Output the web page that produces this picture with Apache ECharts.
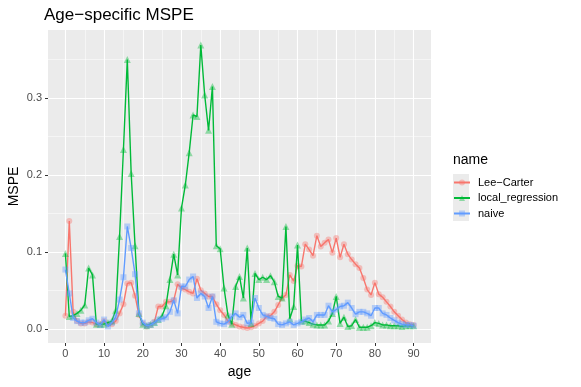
<!DOCTYPE html>
<html><head><meta charset="utf-8">
<script src="https://cdn.jsdelivr.net/npm/echarts@6/dist/echarts.min.js"></script>
<style>html,body{margin:0;padding:0;background:#fff}#c{width:581px;height:387px}</style>
</head><body><div id="c"></div>
<script>
const ages = [0,1,2,3,4,5,6,7,8,9,10,11,12,13,14,15,16,17,18,19,20,21,22,23,24,25,26,27,28,29,30,31,32,33,34,35,36,37,38,39,40,41,42,43,44,45,46,47,48,49,50,51,52,53,54,55,56,57,58,59,60,61,62,63,64,65,66,67,68,69,70,71,72,73,74,75,76,77,78,79,80,81,82,83,84,85,86,87,88,89,90];
const leeCarter = [0.017,0.140,0.022,0.010,0.007,0.007,0.009,0.008,0.006,0.006,0.010,0.006,0.006,0.010,0.020,0.032,0.059,0.060,0.043,0.018,0.007,0.003,0.005,0.009,0.029,0.029,0.035,0.035,0.037,0.058,0.053,0.051,0.048,0.046,0.065,0.050,0.046,0.042,0.042,0.032,0.024,0.018,0.010,0.007,0.005,0.003,0.002,0.001,0.002,0.004,0.007,0.010,0.016,0.017,0.022,0.031,0.040,0.044,0.070,0.062,0.082,0.081,0.110,0.103,0.095,0.121,0.107,0.112,0.116,0.099,0.118,0.093,0.110,0.097,0.090,0.084,0.079,0.066,0.051,0.044,0.060,0.045,0.041,0.035,0.029,0.022,0.017,0.012,0.008,0.006,0.005];
const localRegression = [0.098,0.016,0.017,0.020,0.024,0.031,0.079,0.070,0.006,0.006,0.006,0.008,0.010,0.024,0.120,0.233,0.350,0.202,0.108,0.020,0.006,0.004,0.006,0.008,0.012,0.017,0.030,0.064,0.097,0.070,0.157,0.187,0.229,0.278,0.276,0.369,0.304,0.258,0.315,0.108,0.104,0.053,0.018,0.006,0.055,0.068,0.040,0.105,0.007,0.072,0.064,0.067,0.064,0.069,0.061,0.042,0.040,0.133,0.013,0.029,0.109,0.010,0.010,0.008,0.006,0.005,0.005,0.005,0.010,0.020,0.042,0.007,0.015,0.003,0.004,0.012,0.002,0.002,0.002,0.004,0.008,0.007,0.005,0.005,0.004,0.004,0.004,0.003,0.004,0.004,0.004];
const naive = [0.077,0.046,0.014,0.010,0.008,0.008,0.011,0.013,0.008,0.005,0.012,0.003,0.008,0.015,0.038,0.067,0.133,0.105,0.071,0.020,0.008,0.004,0.005,0.008,0.012,0.013,0.015,0.022,0.037,0.020,0.055,0.055,0.064,0.068,0.040,0.046,0.042,0.027,0.042,0.009,0.007,0.006,0.009,0.016,0.020,0.015,0.018,0.007,0.008,0.040,0.027,0.018,0.016,0.014,0.013,0.006,0.005,0.007,0.009,0.005,0.007,0.009,0.012,0.014,0.009,0.018,0.018,0.018,0.030,0.022,0.025,0.029,0.030,0.034,0.027,0.019,0.022,0.022,0.020,0.017,0.027,0.027,0.020,0.018,0.014,0.011,0.008,0.006,0.005,0.005,0.004];
const seriesNames = ['Lee\u2212Carter','local_regression','naive'];
const xMajorTicks = [0,10,20,30,40,50,60,70,80,90];
const xMinorTicks = [5,15,25,35,45,55,65,75,85];
const yMajorTicks = [0,0.1,0.2,0.3];
const yMinorTicks = [0.05,0.15,0.25,0.35];

const colors = ['#F8766D','#00BA38','#619CFF'];
const symbols = ['circle','triangle','rect'];
const valuesList = [leeCarter, localRegression, naive];
const FONT = '"Liberation Sans", Arial, sans-serif';

const chart = echarts.init(document.getElementById('c'), null, {renderer:'canvas'});
const series = valuesList.map((vals, k) => ({
  name: seriesNames[k],
  type: 'line',
  xAxisIndex: 0, yAxisIndex: 0,
  data: ages.map((a, i) => [a, vals[i]]),
  symbol: symbols[k],
  symbolSize: k === 1 ? 7 : 6,
  showSymbol: true,
  lineStyle: {color: colors[k], width: 1.4},
  itemStyle: {color: colors[k], opacity: 0.4},
  emphasis: {disabled: true},
  z: 3 + k
}));

chart.setOption({
  animation: false,
  textStyle: {fontFamily: FONT},
  title: [
    {text: 'Age\u2212specific MSPE', left: 44, top: 7, padding: 0, textStyle: {fontSize: 17, fontWeight: 'normal', color: '#000', fontFamily: FONT}},
    {text: 'name', left: 453, top: 153, padding: 0, textStyle: {fontSize: 14, fontWeight: 'normal', color: '#000', fontFamily: FONT}}
  ],
  graphic: [
    {type: 'rect', left: 453, top: 174, shape: {width: 16, height: 47}, style: {fill: '#EBEBEB'}, silent: true}
  ],
  legend: {
    orient: 'vertical', left: 453, top: 175, padding: 0,
    itemWidth: 16, itemHeight: 7.5, itemGap: 0.5,
    data: seriesNames,
    textStyle: {fontSize: 11, color: '#000', lineHeight: 15, padding: [0,0,0,3], fontFamily: FONT},
    selectedMode: false
  },
  grid: {left: 48, right: 150, top: 30, bottom: 44, show: true, backgroundColor: '#EBEBEB', borderWidth: 0, outerBoundsMode: 'none', containLabel: false},
  xAxis: [
    {type: 'value', min: -4.5, max: 94.5, gridIndex: 0, position: 'bottom',
     axisLine: {show: false, onZero: false},
     axisTick: {show: true, length: 3, lineStyle: {color: '#333', width: 1}, customValues: xMajorTicks},
     axisLabel: {customValues: xMajorTicks, color: '#4D4D4D', fontSize: 11, margin: 5, fontFamily: FONT},
     splitLine: {show: true, lineStyle: {color: '#fff', width: 1.1}},
     name: 'age', nameLocation: 'middle', nameGap: 22, nameMoveOverlap: false,
     nameTextStyle: {fontSize: 14, color: '#000', fontFamily: FONT}, z: 1},
    {type: 'value', min: -4.5, max: 94.5, gridIndex: 0, position: 'bottom',
     axisLine: {show: false, onZero: false},
     axisTick: {show: false, customValues: xMinorTicks},
     axisLabel: {show: false, customValues: xMinorTicks},
     splitLine: {show: true, lineStyle: {color: '#fff', width: 0.5}}, z: 0}
  ],
  yAxis: [
    {type: 'value', min: -0.0185, max: 0.3885, gridIndex: 0, position: 'left',
     axisLine: {show: false, onZero: false},
     axisTick: {show: true, length: 3, lineStyle: {color: '#333', width: 1}, customValues: yMajorTicks},
     axisLabel: {customValues: yMajorTicks, formatter: v => v.toFixed(1), color: '#4D4D4D', fontSize: 11, margin: 6, fontFamily: FONT},
     splitLine: {show: true, lineStyle: {color: '#fff', width: 1.1}},
     name: 'MSPE', nameLocation: 'middle', nameGap: 27, nameRotate: 90, nameMoveOverlap: false,
     nameTextStyle: {fontSize: 14, color: '#000', fontFamily: FONT}, z: 1},
    {type: 'value', min: -0.0185, max: 0.3885, gridIndex: 0, position: 'left',
     axisLine: {show: false, onZero: false},
     axisTick: {show: false, customValues: yMinorTicks},
     axisLabel: {show: false, customValues: yMinorTicks},
     splitLine: {show: true, lineStyle: {color: '#fff', width: 0.5}}, z: 0}
  ],
  series: series
});
</script>
</body></html>
